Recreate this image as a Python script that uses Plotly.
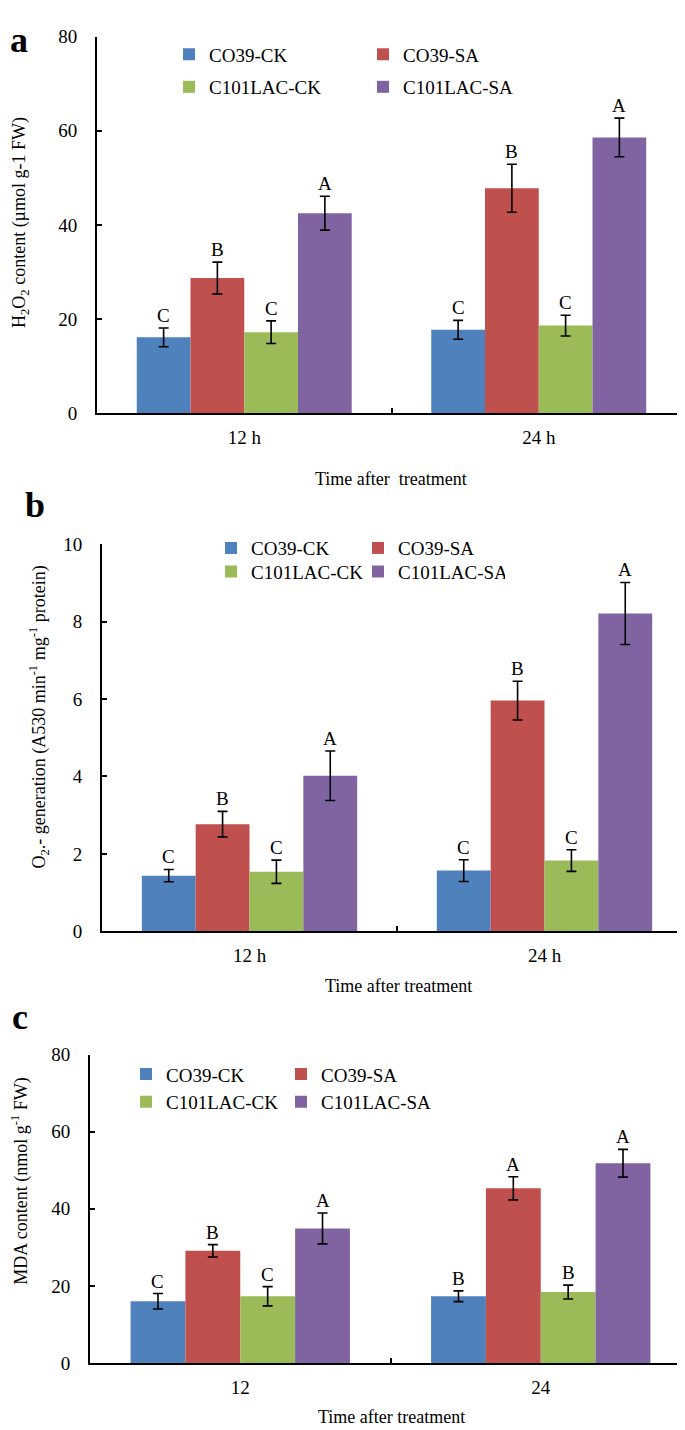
import plotly.graph_objects as go

W, H = 685, 1430
FONT = "Liberation Serif"
FS = 19

# ---------------- data ----------------
series = ["CO39-CK", "CO39-SA", "C101LAC-CK", "C101LAC-SA"]
colors = ["#4F81BD", "#C0504D", "#9BBB59", "#8064A2"]

# panel a: H2O2 content
times_a = ["12 h", "24 h"]
h2o2_co39_ck = [16.1, 17.7]
h2o2_co39_sa = [28.7, 47.8]
h2o2_lac_ck = [17.2, 18.6]
h2o2_lac_sa = [42.5, 58.6]
h2o2_err_co39_ck = [2.0, 2.0]
h2o2_err_co39_sa = [3.4, 5.1]
h2o2_err_lac_ck = [2.4, 2.2]
h2o2_err_lac_sa = [3.6, 4.1]
h2o2_sig_co39_ck = ["C", "C"]
h2o2_sig_co39_sa = ["B", "B"]
h2o2_sig_lac_ck = ["C", "C"]
h2o2_sig_lac_sa = ["A", "A"]

# panel b: O2- generation
times_b = ["12 h", "24 h"]
o2_co39_ck = [1.44, 1.57]
o2_co39_sa = [2.77, 5.96]
o2_lac_ck = [1.54, 1.83]
o2_lac_sa = [4.02, 8.21]
o2_err_co39_ck = [0.16, 0.28]
o2_err_co39_sa = [0.33, 0.50]
o2_err_lac_ck = [0.30, 0.28]
o2_err_lac_sa = [0.64, 0.80]
o2_sig_co39_ck = ["C", "C"]
o2_sig_co39_sa = ["B", "B"]
o2_sig_lac_ck = ["C", "C"]
o2_sig_lac_sa = ["A", "A"]

# panel c: MDA content
times_c = ["12", "24"]
mda_co39_ck = [16.0, 17.3]
mda_co39_sa = [29.1, 45.3]
mda_lac_ck = [17.3, 18.4]
mda_lac_sa = [34.9, 51.8]
mda_err_co39_ck = [2.0, 1.4]
mda_err_co39_sa = [1.6, 3.0]
mda_err_lac_ck = [2.5, 1.8]
mda_err_lac_sa = [4.0, 3.6]
mda_sig_co39_ck = ["C", "B"]
mda_sig_co39_sa = ["B", "A"]
mda_sig_lac_ck = ["C", "B"]
mda_sig_lac_sa = ["A", "A"]

y_ticks_a = [0, 20, 40, 60, 80]
y_ticks_b = [0, 2, 4, 6, 8, 10]
y_ticks_c = [0, 20, 40, 60, 80]

# ---------------- layout helpers ----------------
BARGAP = 0.27


def xd(l, r):
    return [l / W, r / W]


def yd(top, bottom):
    return [1 - bottom / H, 1 - top / H]


def px(x):
    return x / W


def py(y):
    return 1 - y / H


panels = [
    dict(ax="", times=times_a,
         vals=[h2o2_co39_ck, h2o2_co39_sa, h2o2_lac_ck, h2o2_lac_sa],
         errs=[h2o2_err_co39_ck, h2o2_err_co39_sa, h2o2_err_lac_ck, h2o2_err_lac_sa],
         sigs=[h2o2_sig_co39_ck, h2o2_sig_co39_sa, h2o2_sig_lac_ck, h2o2_sig_lac_sa],
         ticks=y_ticks_a, xdom=xd(89, 678), ydom=yd(19, 401),
         legends=("legend", "legend2")),
    dict(ax="2", times=times_b,
         vals=[o2_co39_ck, o2_co39_sa, o2_lac_ck, o2_lac_sa],
         errs=[o2_err_co39_ck, o2_err_co39_sa, o2_err_lac_ck, o2_err_lac_sa],
         sigs=[o2_sig_co39_ck, o2_sig_co39_sa, o2_sig_lac_ck, o2_sig_lac_sa],
         ticks=y_ticks_b, xdom=xd(94, 684), ydom=yd(534, 927),
         legends=("legend3", "legend4")),
    dict(ax="3", times=times_c,
         vals=[mda_co39_ck, mda_co39_sa, mda_lac_ck, mda_lac_sa],
         errs=[mda_err_co39_ck, mda_err_co39_sa, mda_err_lac_ck, mda_err_lac_sa],
         sigs=[mda_sig_co39_ck, mda_sig_co39_sa, mda_sig_lac_ck, mda_sig_lac_sa],
         ticks=y_ticks_c, xdom=xd(82, 683), ydom=yd(1052, 1365),
         legends=("legend5", "legend6")),
]

fig = go.Figure()
annotations = []
layout = {}

bw = (1 - BARGAP) / 4
for p in panels:
    xa, ya = "x" + p["ax"], "y" + p["ax"]
    for k, name in enumerate(series):
        fig.add_trace(go.Bar(
            x=p["times"], y=p["vals"][k], name=name,
            marker=dict(color=colors[k], line=dict(width=0)),
            error_y=dict(type="data", array=p["errs"][k], color="black",
                         thickness=1.6, width=5),
            xaxis=xa, yaxis=ya,
            legend=p["legends"][k // 2],
        ))
        for i in range(len(p["times"])):
            annotations.append(dict(
                x=i + (k - 1.5) * bw, y=p["vals"][k][i] + p["errs"][k][i],
                xref=xa, yref=ya, text=p["sigs"][k][i], showarrow=False,
                yanchor="bottom", yshift=0,
                font=dict(family=FONT, size=FS, color="black")))
    axis_common = dict(showline=True, linecolor="black", linewidth=2,
                       ticks="inside", tickcolor="black", tickwidth=2,
                       ticklen=5, showgrid=False, zeroline=False,
                       tickfont=dict(family=FONT, size=FS, color="black"))
    layout["xaxis" + p["ax"]] = dict(axis_common, domain=p["xdom"],
                                     anchor=ya, type="category",
                                     tickson="boundaries",
                                     range=[-0.5, 1.5],
                                     ticklabelstandoff=6)
    layout["yaxis" + p["ax"]] = dict(axis_common, domain=p["ydom"],
                                     anchor=xa,
                                     range=[p["ticks"][0], p["ticks"][-1]],
                                     tickvals=p["ticks"],
                                     ticklabelstandoff=14)

# legends: two rows per panel
leg_specs = [
    ("legend", 161, 37, 149), ("legend2", 161, 70, 149),
    ("legend3", 203, 538, 102), ("legend4", 203, 562, 102),
    ("legend5", 118, 1072, 110), ("legend6", 118, 1100, 110),
]
for key, lx, ly, ew in leg_specs:
    layout[key] = dict(orientation="h", x=px(lx), y=py(ly), xanchor="left",
                       yanchor="middle", entrywidth=ew, entrywidthmode="pixels",
                       bgcolor="rgba(0,0,0,0)", borderwidth=0,
                       font=dict(family=FONT, size=FS, color="black"),
                       traceorder="normal", itemclick=False)

# panel letters
for lab, x, y in [("a", 0, 0), ("b", 15, 472), ("c", 2, 992)]:
    annotations.append(dict(text="<b>" + lab + "</b>", x=px(x), y=py(y),
                            xref="paper", yref="paper", xanchor="left",
                            yanchor="top", showarrow=False,
                            font=dict(family=FONT, size=36, color="black")))

# axis titles
ytitles = [
    ("H<sub>2</sub>O<sub>2</sub> content (µmol g-1 FW)", 13, 208),
    ("O<sub>2</sub>.- generation (A530 min<sup>-1</sup> mg<sup>-1</sup> protein)", 31, 710),
    ("MDA content (nmol g<sup>-1</sup> FW)", 12, 1180),
]
for t, x, y in ytitles:
    annotations.append(dict(text=t, x=px(x), y=py(y), xref="paper",
                            yref="paper", xanchor="center", yanchor="middle",
                            textangle=-90, showarrow=False,
                            font=dict(family=FONT, size=18, color="black")))
xtitles = [
    ("Time after&nbsp; treatment", 383, 468),
    ("Time after treatment", 390, 982),
    ("Time after treatment", 383, 1420),
]
for t, x, y in xtitles:
    annotations.append(dict(text=t, x=px(x), y=py(y), xref="paper",
                            yref="paper", xanchor="center", yanchor="middle",
                            showarrow=False,
                            font=dict(family=FONT, size=18, color="black")))

fig.update_layout(
    width=W, height=H, margin=dict(l=0, r=0, t=0, b=0),
    paper_bgcolor="white", plot_bgcolor="white",
    barmode="group", bargap=BARGAP, bargroupgap=0,
    annotations=annotations, showlegend=True,
    font=dict(family=FONT, size=FS, color="black"),
    **layout,
)

fig.write_html("out.html")
